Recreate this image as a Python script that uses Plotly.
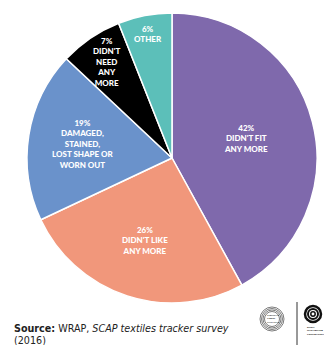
import math
import plotly.graph_objects as go

# Reasons for discarding clothing (share of responses, %)
reasons = ["DIDN'T FIT<br>ANY MORE", "DIDN'T LIKE<br>ANY MORE",
           "DAMAGED,<br>STAINED,<br>LOST SHAPE OR<br>WORN OUT",
           "DIDN'T<br>NEED<br>ANY<br>MORE", "OTHER"]
shares = [42, 26, 19, 7, 6]
colors = ["#7F69AC", "#F1977B", "#6A92CB", "#000000", "#5CBFB9"]
label_radius = [0.53, 0.6, 0.62, 0.8, 0.87]  # fraction of pie radius for each label

W, H = 324, 345
cx, cy, R = 172, 158, 145  # pie centre and radius in pixels (y from top)

fig = go.Figure(go.Pie(
    values=shares,
    labels=[r.replace("<br>", " ") for r in reasons],
    marker=dict(colors=colors, line=dict(color="white", width=1.5)),
    sort=False, direction="clockwise", rotation=0,
    textinfo="none", hoverinfo="label+percent", showlegend=False,
    domain=dict(x=[(cx - R) / W, (cx + R) / W], y=[1 - (cy + R) / H, 1 - (cy - R) / H]),
))

# Labels placed at the middle angle of each slice
total = sum(shares)
cum = 0
for val, txt, rf in zip(shares, reasons, label_radius):
    mid = (cum + val / 2) / total * 2 * math.pi
    cum += val
    px = cx + rf * R * math.sin(mid)
    py = cy - rf * R * math.cos(mid)
    fig.add_annotation(
        x=px / W, y=1 - py / H, xref="paper", yref="paper",
        text=f"{val}%<br>{txt}", showarrow=False,
        font=dict(family="Lato", size=8, color="white", weight=900),
        align="center", xanchor="center", yanchor="middle",
    )

# Source note
fig.add_annotation(
    x=12 / W, y=1 - 321 / H, xref="paper", yref="paper", xanchor="left", yanchor="top",
    text="<b>Source:</b> WRAP, <i>SCAP textiles tracker survey</i><br>(2016)",
    showarrow=False, align="left",
    font=dict(family="DejaVu Sans", size=9.6, color="#222222"),
)

# Partner marks at the bottom right
shapes = []
for r in (12, 10.5, 9, 7.5):
    shapes.append(dict(type="circle", xref="paper", yref="paper",
                       x0=(272 - r) / W, x1=(272 + r) / W,
                       y0=1 - (319 + r) / H, y1=1 - (319 - r) / H,
                       line=dict(color="#444444", width=0.7)))
shapes.append(dict(type="line", xref="paper", yref="paper",
                   x0=297 / W, x1=297 / W, y0=0, y1=1 - 302 / H,
                   line=dict(color="#333333", width=1)))
for r, w in ((8, 2.5), (5, 2), (2.2, 1.5)):
    shapes.append(dict(type="circle", xref="paper", yref="paper",
                       x0=(313 - r) / W, x1=(313 + r) / W,
                       y0=1 - (314 + r) / H, y1=1 - (314 - r) / H,
                       line=dict(color="#111111", width=w)))
fig.update_layout(shapes=shapes)
fig.add_annotation(x=265 / W, y=1 - 319 / H, xref="paper", yref="paper",
                   xanchor="left", yanchor="middle", showarrow=False,
                   text="CIRCULAR<br>FIBRES<br>INITIATIVE",
                   font=dict(family="Lato", size=2.5, color="#333333", weight=700), align="left")
fig.add_annotation(x=305 / W, y=1 - 324 / H, xref="paper", yref="paper",
                   xanchor="left", yanchor="top", showarrow=False,
                   text="ELLEN<br>MACARTHUR<br>FOUNDATION",
                   font=dict(family="Lato", size=2.5, color="#111111", weight=900), align="left")

fig.update_layout(
    width=W, height=H, margin=dict(l=0, r=0, t=0, b=0),
    paper_bgcolor="white", plot_bgcolor="white",
)
fig.write_html("out.html")
